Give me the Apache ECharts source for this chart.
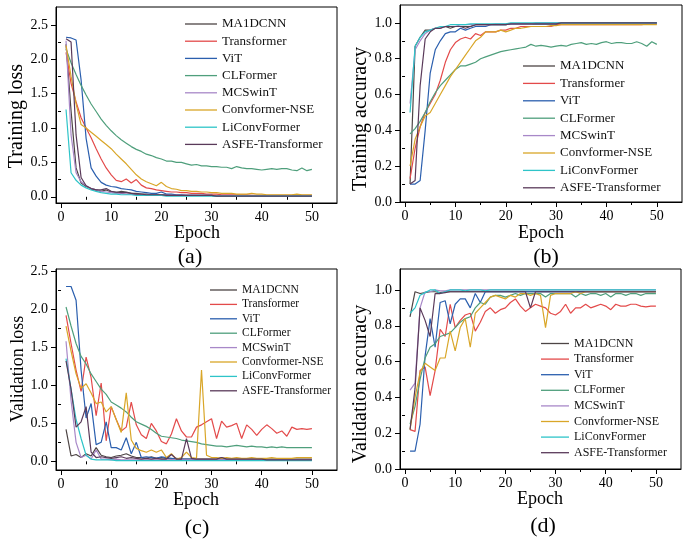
<!DOCTYPE html>
<html>
<head>
<meta charset="utf-8">
<script src="https://cdn.jsdelivr.net/npm/echarts@6/dist/echarts.min.js"></script>
<style>
html, body { margin: 0; padding: 0; background: #fff; }
#chart { width: 692px; height: 540px; }
</style>
</head>
<body>
<div id="chart"></div>
<script>
// epochs and model names
var epochs = [1,2,3,4,5,6,7,8,9,10,11,12,13,14,15,16,17,18,19,20,21,22,23,24,25,
  26,27,28,29,30,31,32,33,34,35,36,37,38,39,40,41,42,43,44,45,46,47,48,49,50];
var models = ['MA1DCNN', 'Transformer', 'ViT', 'CLFormer', 'MCSwinT', 'Convformer-NSE', 'LiConvFormer', 'ASFE-Transformer'];
var colors = ['#4d4545', '#e34a4a', '#2b5fae', '#4f9f7c', '#a888c8', '#d9a628', '#2ec4c8', '#5a3a5a'];

// tick values
var xMajor = [0, 10, 20, 30, 40, 50];
var xMinor = [5, 15, 25, 35, 45];
var lossMajor = [0, 0.5, 1, 1.5, 2, 2.5];
var lossMinor = [0.25, 0.75, 1.25, 1.75, 2.25];
var accMajor = [0, 0.2, 0.4, 0.6, 0.8, 1.0];
var accMinor = [0.1, 0.3, 0.5, 0.7, 0.9];

// (a) training loss
var tlMA1DCNN = [2.22,1.25,0.42,0.20,0.15,0.12,0.10,0.08,0.10,0.07,
  0.06,0.08,0.07,0.05,0.05,0.04,0.04,0.03,0.03,0.03,
  0.03,0.02,0.02,0.02,0.02,0.02,0.02,0.02,0.02,0.02,
  0.01,0.01,0.01,0.01,0.01,0.01,0.01,0.01,0.01,0.01,
  0.01,0.01,0.01,0.01,0.01,0.01,0.01,0.01,0.01,0.01];
var tlTransformer = [2.10,1.65,1.38,1.15,1.00,0.86,0.70,0.55,0.42,0.32,
  0.24,0.22,0.26,0.20,0.25,0.17,0.13,0.12,0.10,0.09,
  0.08,0.07,0.07,0.06,0.06,0.05,0.05,0.05,0.04,0.04,
  0.04,0.03,0.03,0.03,0.03,0.03,0.03,0.02,0.02,0.02,
  0.02,0.02,0.02,0.02,0.02,0.02,0.03,0.02,0.02,0.02];
var tlViT = [2.32,2.31,2.28,1.70,0.85,0.42,0.30,0.21,0.17,0.15,
  0.14,0.12,0.11,0.10,0.08,0.07,0.06,0.05,0.05,0.07,
  0.04,0.04,0.03,0.03,0.02,0.02,0.02,0.02,0.02,0.02,
  0.01,0.01,0.01,0.01,0.01,0.01,0.01,0.01,0.01,0.01,
  0.01,0.01,0.01,0.01,0.01,0.01,0.01,0.01,0.01,0.01];
var tlCLFormer = [2.15,1.95,1.78,1.62,1.48,1.35,1.24,1.13,1.04,0.96,
  0.89,0.83,0.78,0.73,0.69,0.66,0.62,0.60,0.57,0.55,
  0.52,0.52,0.50,0.50,0.48,0.46,0.47,0.45,0.45,0.44,
  0.44,0.43,0.43,0.41,0.44,0.42,0.41,0.41,0.40,0.39,
  0.40,0.41,0.40,0.41,0.41,0.39,0.38,0.42,0.38,0.40];
var tlMCSwinT = [2.27,0.90,0.35,0.22,0.16,0.12,0.10,0.08,0.07,0.06,
  0.05,0.05,0.04,0.04,0.03,0.03,0.03,0.02,0.02,0.02,
  0.02,0.02,0.02,0.02,0.02,0.02,0.02,0.02,0.02,0.02,
  0.01,0.01,0.01,0.01,0.01,0.01,0.01,0.01,0.01,0.01,
  0.01,0.01,0.01,0.01,0.01,0.01,0.01,0.01,0.01,0.01];
var tlConvformer = [2.20,1.75,1.35,1.05,1.00,0.94,0.88,0.82,0.76,0.70,
  0.62,0.55,0.48,0.40,0.32,0.26,0.22,0.19,0.16,0.21,
  0.15,0.12,0.11,0.09,0.09,0.08,0.08,0.07,0.07,0.06,
  0.06,0.05,0.05,0.05,0.04,0.04,0.04,0.05,0.04,0.04,
  0.03,0.03,0.03,0.03,0.03,0.03,0.04,0.03,0.03,0.03];
var tlLiConvFormer = [1.27,0.35,0.24,0.17,0.13,0.10,0.08,0.06,0.05,0.04,
  0.04,0.03,0.03,0.03,0.02,0.02,0.02,0.02,0.02,0.02,
  0.01,0.01,0.01,0.01,0.01,0.01,0.01,0.01,0.01,0.01,
  0.01,0.01,0.01,0.01,0.01,0.01,0.01,0.01,0.01,0.01,
  0.01,0.01,0.01,0.01,0.01,0.01,0.01,0.01,0.01,0.01];
var tlASFE = [2.30,2.25,0.90,0.28,0.16,0.12,0.10,0.10,0.12,0.08,
  0.07,0.06,0.06,0.05,0.04,0.04,0.03,0.03,0.03,0.03,
  0.02,0.02,0.02,0.02,0.02,0.02,0.02,0.02,0.02,0.02,
  0.01,0.01,0.01,0.01,0.01,0.01,0.01,0.01,0.01,0.01,
  0.01,0.01,0.01,0.01,0.01,0.01,0.01,0.01,0.01,0.01];

// (b) training accuracy
var taMA1DCNN = [0.10,0.87,0.92,0.96,0.96,0.97,0.97,0.98,0.97,0.98,
  0.98,0.98,0.98,0.99,0.99,0.99,0.99,0.99,0.99,0.99,
  0.995,0.995,0.995,0.995,0.995,0.995,0.995,0.995,0.995,0.995,
  1.0,1.0,1.0,1.0,1.0,1.0,1.0,1.0,1.0,1.0,
  1.0,1.0,1.0,1.0,1.0,1.0,1.0,1.0,1.0,1.0];
var taTransformer = [0.13,0.30,0.42,0.50,0.55,0.60,0.68,0.78,0.85,0.89,
  0.91,0.92,0.91,0.94,0.93,0.95,0.95,0.95,0.96,0.96,
  0.97,0.97,0.98,0.98,0.98,0.98,0.98,0.98,0.98,0.99,
  0.99,0.99,0.99,0.99,0.99,0.99,0.99,0.99,0.99,0.99,
  0.99,0.99,0.99,0.99,0.99,0.99,0.99,0.995,0.995,0.995];
var taViT = [0.10,0.10,0.12,0.40,0.72,0.85,0.90,0.94,0.95,0.95,
  0.97,0.96,0.97,0.98,0.98,0.98,0.99,0.99,0.99,0.99,
  0.995,0.995,0.995,0.995,0.995,0.995,0.995,0.995,0.995,0.995,
  1.0,1.0,1.0,1.0,1.0,1.0,1.0,1.0,1.0,1.0,
  1.0,1.0,1.0,1.0,1.0,1.0,1.0,1.0,1.0,1.0];
var taCLFormer = [0.38,0.41,0.45,0.50,0.56,0.61,0.65,0.68,0.71,0.74,
  0.76,0.76,0.77,0.78,0.80,0.81,0.82,0.83,0.84,0.845,
  0.85,0.855,0.86,0.865,0.88,0.87,0.875,0.87,0.865,0.87,
  0.875,0.87,0.88,0.885,0.89,0.88,0.885,0.88,0.89,0.895,
  0.885,0.89,0.89,0.885,0.885,0.895,0.885,0.87,0.895,0.88];
var taMCSwinT = [0.55,0.85,0.90,0.94,0.96,0.97,0.97,0.98,0.98,0.98,
  0.99,0.99,0.99,0.99,0.99,0.99,0.99,0.995,0.995,0.995,
  0.995,0.995,0.995,0.995,0.995,1.0,1.0,1.0,1.0,1.0,
  1.0,1.0,1.0,1.0,1.0,1.0,1.0,1.0,1.0,1.0,
  1.0,1.0,1.0,1.0,1.0,1.0,1.0,1.0,1.0,1.0];
var taConvformer = [0.20,0.35,0.42,0.48,0.50,0.55,0.60,0.65,0.70,0.74,
  0.78,0.82,0.86,0.90,0.92,0.95,0.95,0.95,0.96,0.95,
  0.96,0.97,0.97,0.975,0.98,0.98,0.98,0.98,0.985,0.985,
  0.99,0.99,0.99,0.99,0.99,0.99,0.99,0.99,0.99,0.99,
  0.99,0.99,0.99,0.99,0.99,0.99,0.99,0.99,0.99,0.99];
var taLiConvFormer = [0.50,0.87,0.92,0.95,0.96,0.97,0.98,0.98,0.99,0.99,
  0.99,0.99,0.995,0.995,0.995,0.995,0.995,0.995,0.995,0.995,
  1.0,1.0,1.0,1.0,1.0,1.0,1.0,1.0,1.0,1.0,
  1.0,1.0,1.0,1.0,1.0,1.0,1.0,1.0,1.0,1.0,
  1.0,1.0,1.0,1.0,1.0,1.0,1.0,1.0,1.0,1.0];
var taASFE = [0.10,0.12,0.65,0.91,0.95,0.97,0.97,0.98,0.98,0.98,
  0.98,0.97,0.98,0.99,0.99,0.99,0.99,0.99,0.99,0.99,
  0.995,0.995,0.995,0.995,0.995,0.995,0.995,0.995,0.995,0.995,
  1.0,1.0,1.0,1.0,1.0,1.0,1.0,1.0,1.0,1.0,
  1.0,1.0,1.0,1.0,1.0,1.0,1.0,1.0,1.0,1.0];

// (c) validation loss
var vlMA1DCNN = [0.42,0.07,0.09,0.05,0.10,0.07,0.18,0.08,0.06,0.05,
  0.07,0.08,0.10,0.07,0.05,0.05,0.04,0.06,0.04,0.05,
  0.04,0.03,0.04,0.03,0.03,0.03,0.03,0.03,0.03,0.03,
  0.03,0.05,0.03,0.03,0.03,0.03,0.03,0.03,0.03,0.03,
  0.03,0.03,0.03,0.03,0.03,0.03,0.03,0.03,0.03,0.03];
var vlTransformer = [1.92,1.55,1.20,0.92,1.37,1.10,0.60,1.03,0.27,0.72,
  0.55,0.40,0.45,0.78,0.48,0.35,0.30,0.50,0.40,0.26,
  0.23,0.36,0.56,0.40,0.32,0.32,0.45,0.48,0.52,0.56,
  0.30,0.53,0.45,0.47,0.50,0.30,0.48,0.42,0.34,0.42,
  0.48,0.43,0.37,0.40,0.33,0.45,0.42,0.43,0.42,0.43];
var vlViT = [2.30,2.30,2.12,1.20,0.57,0.76,0.22,0.25,0.52,0.18,
  0.18,0.15,0.31,0.10,0.25,0.05,0.06,0.05,0.04,0.06,
  0.05,0.04,0.03,0.03,0.03,0.03,0.02,0.02,0.02,0.02,
  0.02,0.02,0.02,0.02,0.02,0.02,0.02,0.02,0.02,0.02,
  0.02,0.02,0.02,0.02,0.02,0.02,0.02,0.02,0.02,0.02];
var vlCLFormer = [2.03,1.78,1.55,1.38,1.28,1.15,1.05,0.95,0.88,0.78,
  0.74,0.70,0.65,0.58,0.52,0.49,0.46,0.42,0.37,0.33,
  0.32,0.31,0.30,0.28,0.27,0.26,0.25,0.23,0.22,0.21,
  0.20,0.20,0.19,0.20,0.21,0.20,0.19,0.20,0.19,0.19,
  0.18,0.19,0.18,0.19,0.18,0.18,0.18,0.18,0.18,0.18];
var vlMCSwinT = [1.58,0.80,0.25,0.05,0.08,0.03,0.15,0.03,0.03,0.02,
  0.03,0.02,0.02,0.02,0.02,0.02,0.02,0.02,0.02,0.02,
  0.02,0.02,0.02,0.02,0.02,0.02,0.02,0.02,0.02,0.02,
  0.02,0.02,0.02,0.02,0.02,0.02,0.02,0.02,0.02,0.02,
  0.02,0.02,0.02,0.02,0.02,0.02,0.02,0.02,0.02,0.02];
var vlConvformer = [1.78,1.45,1.15,0.96,1.02,0.90,0.76,0.78,0.65,0.72,
  0.55,0.38,0.90,0.28,0.17,0.14,0.12,0.15,0.12,0.15,
  0.05,0.10,0.03,0.05,0.12,0.05,0.04,1.20,0.08,0.05,
  0.05,0.04,0.05,0.04,0.05,0.04,0.04,0.05,0.04,0.04,
  0.04,0.05,0.04,0.04,0.04,0.04,0.05,0.05,0.05,0.05];
var vlLiConvFormer = [1.35,0.95,0.55,0.30,0.08,0.03,0.02,0.02,0.02,0.02,
  0.01,0.01,0.01,0.01,0.01,0.01,0.01,0.01,0.01,0.01,
  0.01,0.01,0.01,0.01,0.01,0.01,0.01,0.01,0.01,0.01,
  0.01,0.01,0.01,0.01,0.01,0.01,0.01,0.01,0.01,0.01,
  0.01,0.01,0.01,0.01,0.01,0.01,0.01,0.01,0.01,0.01];
var vlASFE = [1.32,0.95,0.45,0.52,0.72,0.12,0.05,0.06,0.05,0.04,
  0.05,0.06,0.04,0.05,0.04,0.03,0.04,0.03,0.04,0.03,
  0.03,0.09,0.03,0.03,0.30,0.04,0.03,0.03,0.03,0.03,
  0.03,0.05,0.03,0.03,0.03,0.03,0.03,0.03,0.03,0.03,
  0.02,0.02,0.02,0.02,0.02,0.02,0.02,0.02,0.02,0.02];

// (d) validation accuracy
var vaMA1DCNN = [0.85,0.99,0.98,0.985,0.99,0.99,0.985,0.99,0.99,0.99,
  0.99,0.99,0.99,0.99,0.99,0.99,0.99,0.99,0.99,0.99,
  0.99,0.99,0.99,0.99,0.99,0.99,0.99,0.99,0.99,0.99,
  0.99,0.99,0.99,0.99,0.99,0.99,0.99,0.99,0.99,0.99,
  0.99,0.99,0.99,0.99,0.99,0.99,0.99,0.99,0.99,0.99];
var vaTransformer = [0.22,0.21,0.55,0.57,0.41,0.55,0.78,0.74,0.92,0.79,
  0.83,0.86,0.87,0.77,0.82,0.88,0.90,0.87,0.89,0.90,
  0.93,0.95,0.91,0.88,0.90,0.92,0.91,0.90,0.87,0.86,
  0.88,0.92,0.87,0.90,0.90,0.92,0.90,0.91,0.92,0.91,
  0.89,0.92,0.91,0.91,0.92,0.92,0.91,0.905,0.91,0.91];
var vaViT = [0.10,0.10,0.25,0.63,0.84,0.68,0.93,0.94,0.81,0.92,
  0.95,0.95,0.90,0.98,0.93,0.99,0.99,0.99,0.99,0.99,
  0.99,0.99,0.99,0.99,0.99,0.99,0.99,0.99,0.99,0.99,
  0.99,0.99,0.99,0.99,0.99,0.99,0.99,0.99,0.99,0.99,
  0.99,0.99,0.99,0.99,0.99,0.99,0.99,0.99,0.99,0.99];
var vaCLFormer = [0.25,0.35,0.50,0.62,0.68,0.70,0.74,0.75,0.76,0.79,
  0.82,0.84,0.85,0.90,0.93,0.92,0.96,0.97,0.97,0.96,
  0.97,0.98,0.97,0.98,0.98,0.98,0.98,0.96,0.98,0.98,
  0.98,0.98,0.98,0.96,0.98,0.97,0.98,0.98,0.97,0.98,
  0.96,0.98,0.98,0.97,0.98,0.98,0.97,0.98,0.98,0.98];
var vaMCSwinT = [0.44,0.48,0.90,0.99,0.99,1.0,0.995,0.995,1.0,1.0,
  1.0,1.0,1.0,1.0,1.0,1.0,1.0,1.0,1.0,1.0,
  1.0,1.0,1.0,1.0,1.0,1.0,1.0,1.0,1.0,1.0,
  1.0,1.0,1.0,1.0,1.0,1.0,1.0,1.0,1.0,1.0,
  1.0,1.0,1.0,1.0,1.0,1.0,1.0,1.0,1.0,1.0];
var vaConvformer = [0.22,0.40,0.54,0.59,0.57,0.55,0.62,0.62,0.77,0.66,
  0.79,0.84,0.68,0.87,0.90,0.93,0.96,0.97,0.96,0.95,
  0.97,0.96,0.98,0.98,0.97,0.98,0.97,0.79,0.97,0.98,
  0.98,0.98,0.98,0.99,0.98,0.99,0.99,0.99,0.99,0.99,
  0.99,0.99,0.99,0.99,0.99,0.99,0.99,0.99,0.99,0.99];
var vaLiConvFormer = [0.87,0.90,0.97,0.985,1.0,1.0,0.98,0.99,1.0,1.0,
  1.0,0.995,1.0,1.0,1.0,0.995,1.0,1.0,1.0,1.0,
  1.0,1.0,1.0,1.0,1.0,1.0,1.0,1.0,1.0,1.0,
  1.0,1.0,1.0,1.0,1.0,1.0,1.0,1.0,1.0,1.0,
  1.0,1.0,1.0,1.0,1.0,1.0,1.0,1.0,1.0,1.0];
var vaASFE = [0.22,0.45,0.90,0.83,0.74,0.98,0.98,0.985,0.99,0.99,
  0.99,0.99,0.99,0.99,0.99,0.99,0.99,0.99,0.99,0.99,
  0.99,0.99,0.99,0.99,0.90,0.99,0.99,0.99,0.99,0.99,
  0.99,0.99,0.99,0.99,0.99,0.99,0.99,0.99,0.99,0.99,
  0.99,0.99,0.99,0.99,0.99,0.99,0.99,0.99,0.99,0.99];

var trainLoss = [tlMA1DCNN, tlTransformer, tlViT, tlCLFormer, tlMCSwinT, tlConvformer, tlLiConvFormer, tlASFE];
var trainAcc = [taMA1DCNN, taTransformer, taViT, taCLFormer, taMCSwinT, taConvformer, taLiConvFormer, taASFE];
var valLoss = [vlMA1DCNN, vlTransformer, vlViT, vlCLFormer, vlMCSwinT, vlConvformer, vlLiConvFormer, vlASFE];
var valAcc = [vaMA1DCNN, vaTransformer, vaViT, vaCLFormer, vaMCSwinT, vaConvformer, vaLiConvFormer, vaASFE];

var serif = 'Liberation Serif';

var panels = [
  { grid: {left: 56, top: 7, width: 281, height: 196}, ymin: -0.09, ymax: 2.76, major: lossMajor, minor: lossMinor, data: trainLoss,
    legend: {left: 185, top: 17, itemWidth: 32, rowH: 14, itemGap: 3.2, fontSize: 13},
    ytitle: 'Training loss', ty: [17, 116, 20], ex: [197, 233], lab: ['(a)', 190, 257] },
  { grid: {left: 400, top: 5, width: 282, height: 197}, ymin: 0, ymax: 1.1, major: accMajor, minor: accMinor, data: trainAcc,
    legend: {left: 523, top: 59, itemWidth: 32, rowH: 14, itemGap: 3.4, fontSize: 13},
    ytitle: 'Training accuracy', ty: [361, 119, 20], ex: [541, 233], lab: ['(b)', 546, 257] },
  { grid: {left: 56, top: 269, width: 281, height: 201}, ymin: -0.114, ymax: 2.53, major: lossMajor, minor: lossMinor, data: valLoss,
    legend: {left: 210, top: 284, itemWidth: 27, rowH: 12, itemGap: 2.4, fontSize: 11.5},
    ytitle: 'Validation loss', ty: [18, 369, 18], ex: [196, 500], lab: ['(c)', 197, 528] },
  { grid: {left: 400, top: 269, width: 281, height: 200}, ymin: 0, ymax: 1.117, major: accMajor, minor: accMinor, data: valAcc,
    legend: {left: 541, top: 337, itemWidth: 28, rowH: 13, itemGap: 2.6, fontSize: 12},
    ytitle: 'Validation accuracy', ty: [361, 384, 20], ex: [540, 499], lab: ['(d)', 543, 526] }
];

var grids = [], xAxes = [], yAxes = [], legends = [], series = [], graphics = [];
var n = panels.length;

panels.forEach(function (p, i) {
  grids.push(Object.assign({show: true, borderColor: '#000', borderWidth: 1, backgroundColor: 'transparent'}, p.grid));

  xAxes[i] = {
    type: 'value', gridIndex: i, min: -1, max: 55, position: 'bottom',
    axisLine: {show: true, onZero: false, lineStyle: {color: '#000', width: 1}},
    axisTick: {show: true, length: 5, customValues: xMajor, lineStyle: {color: '#000'}},
    axisLabel: {customValues: xMajor, margin: 7, color: '#000', fontFamily: serif, fontSize: 14},
    splitLine: {show: false}
  };
  xAxes[n + i] = {
    type: 'value', gridIndex: i, min: -1, max: 55, position: 'bottom',
    axisLine: {show: false},
    axisTick: {show: true, length: 3, customValues: xMinor, lineStyle: {color: '#000'}},
    axisLabel: {show: false},
    splitLine: {show: false}
  };
  yAxes[i] = {
    type: 'value', gridIndex: i, min: p.ymin, max: p.ymax, position: 'left',
    axisLine: {show: true, onZero: false, lineStyle: {color: '#000', width: 1}},
    axisTick: {show: true, length: 5, customValues: p.major, lineStyle: {color: '#000'}},
    axisLabel: {customValues: p.major, margin: 8, color: '#000', fontFamily: serif, fontSize: 14,
      formatter: function (v) { return v.toFixed(1); }},
    splitLine: {show: false}
  };
  yAxes[n + i] = {
    type: 'value', gridIndex: i, min: p.ymin, max: p.ymax, position: 'left',
    axisLine: {show: false},
    axisTick: {show: true, length: 3, customValues: p.minor, lineStyle: {color: '#000'}},
    axisLabel: {show: false},
    splitLine: {show: false}
  };

  // plain line icons: a thin rect, row height set by the text line height
  legends.push({
    data: models, orient: 'vertical', left: p.legend.left, top: p.legend.top, padding: 0,
    icon: 'rect', itemWidth: p.legend.itemWidth, itemHeight: 1.3, itemGap: p.legend.itemGap,
    selectedMode: false,
    textStyle: {fontFamily: serif, fontSize: p.legend.fontSize, color: '#111', lineHeight: p.legend.rowH}
  });

  models.forEach(function (m, k) {
    series.push({
      name: m, type: 'line', xAxisIndex: i, yAxisIndex: i,
      symbol: 'none', color: colors[k],
      lineStyle: {width: 1.2, color: colors[k]},
      data: epochs.map(function (e, j) { return [e, p.data[k][j]]; })
    });
  });

  graphics.push({type: 'text', x: p.ty[0], y: p.ty[1], rotation: Math.PI / 2,
    style: {text: p.ytitle, fontFamily: serif, fontSize: p.ty[2], fill: '#000', align: 'center', verticalAlign: 'middle'}});
  graphics.push({type: 'text', x: p.ex[0], y: p.ex[1],
    style: {text: 'Epoch', fontFamily: serif, fontSize: 18, fill: '#000', align: 'center', verticalAlign: 'middle'}});
  graphics.push({type: 'text', x: p.lab[1], y: p.lab[2],
    style: {text: p.lab[0], fontFamily: serif, fontSize: 22, fill: '#000', align: 'center', verticalAlign: 'middle'}});
});

var chart = echarts.init(document.getElementById('chart'));
chart.setOption({
  animation: false,
  backgroundColor: '#fff',
  grid: grids,
  xAxis: xAxes,
  yAxis: yAxes,
  legend: legends,
  series: series,
  graphic: graphics
});
</script>
</body>
</html>
